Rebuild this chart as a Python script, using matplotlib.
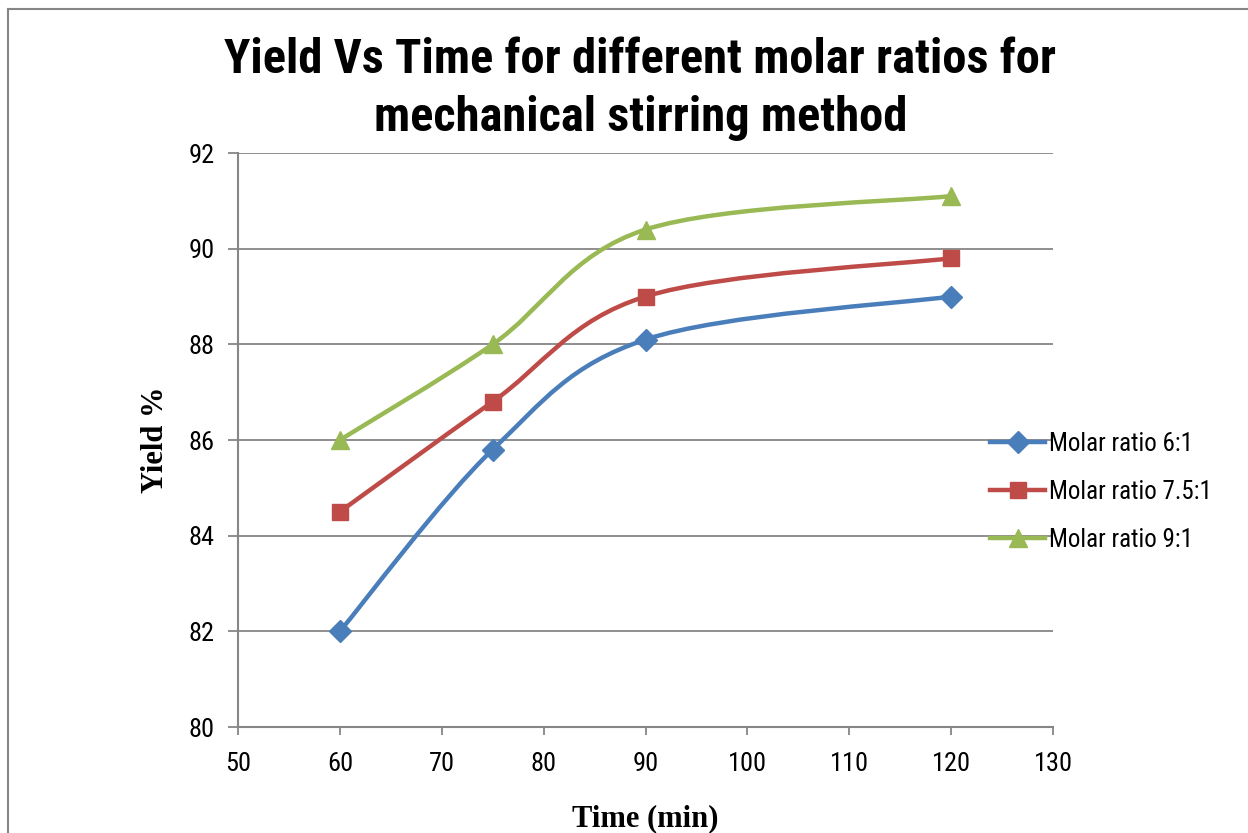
import numpy as np
import matplotlib; matplotlib.use("Agg")
import matplotlib.pyplot as plt
from matplotlib.path import Path
from matplotlib.patches import PathPatch
from matplotlib.lines import Line2D

# ------------------------------------------------------------------ data
time_min = [60, 75, 90, 120]
yield_6  = [82.0, 85.8, 88.1, 89.0]
yield_75 = [84.5, 86.8, 89.0, 89.8]
yield_9  = [86.0, 88.0, 90.4, 91.1]
labels   = ["Molar ratio 6:1", "Molar ratio 7.5:1", "Molar ratio 9:1"]
colors   = ["#4A7EBB", "#BE4B48", "#98B954"]
markers  = ["D", "s", "^"]

NARROW = ["Roboto Condensed", "DejaVu Sans"]
SERIF  = ["Liberation Serif", "DejaVu Serif"]
GRAY = "#868686"

def smooth_path(x, y):
    """Excel-like smoothed line: Catmull-Rom turned into cubic Bezier."""
    p = np.column_stack([x, y]).astype(float)
    ext = np.vstack([p[0], p, p[-1]])
    verts, codes = [p[0]], [Path.MOVETO]
    for i in range(1, len(ext) - 2):
        p0, p1, p2, p3 = ext[i-1], ext[i], ext[i+1], ext[i+2]
        verts += [p1 + (p2 - p0) / 6, p2 - (p3 - p1) / 6, p2]
        codes += [Path.CURVE4] * 3
    return Path(verts, codes)

fig = plt.figure(figsize=(12.48, 8.33), dpi=100)
ax = fig.add_axes([238/1248, 106/833, (1053-238)/1248, (727-153)/833])

handles = []
for ys, c, m, lab in zip([yield_6, yield_75, yield_9], colors, markers, labels):
    ax.add_patch(PathPatch(smooth_path(time_min, ys), fc="none", ec=c, lw=3.2, zorder=3,
                           capstyle="round", joinstyle="round"))
    ms = 13 if m == "^" else (11 if m == "D" else 11.5)
    ax.plot(time_min, ys, ls="none", marker=m, color=c, ms=ms, zorder=4)
    handles.append(Line2D([], [], color=c, lw=3.2, marker=m, ms=ms, label=lab))

ax.set_xlim(50, 130)
ax.set_ylim(80, 92)
ax.set_xticks(range(50, 131, 10))
ax.set_yticks(range(80, 93, 2))
ax.yaxis.grid(True, color=GRAY, lw=1.3)
ax.set_axisbelow(True)
for s in ["top", "right"]:
    ax.spines[s].set_visible(False)
for s in ["left", "bottom"]:
    ax.spines[s].set_color(GRAY)
    ax.spines[s].set_linewidth(1.5)
ax.tick_params(axis="y", direction="out", length=7, width=1.3, color=GRAY, pad=10)
ax.tick_params(axis="x", direction="out", length=6, width=1.3, color=GRAY, pad=12)
for t in ax.get_xticklabels() + ax.get_yticklabels():
    t.set_family(NARROW); t.set_fontsize(19)

ax.set_xlabel("Time (min)", family=SERIF, fontsize=22, fontweight="bold", labelpad=20)
ax.set_ylabel("Yield %", family=SERIF, fontsize=22, fontweight="bold", labelpad=13)

fig.text(0.513, 1 - 89/833,
         "Yield Vs Time for different molar ratios for\nmechanical stirring method",
         ha="center", va="center", family=NARROW, fontsize=35, fontweight="bold",
         linespacing=1.32)

fig.legend(handles=handles, loc="center left", bbox_to_anchor=(990/1248, 1 - 492/833),
           frameon=False, prop={"family": NARROW, "size": 18}, handlelength=2.2,
           handletextpad=0.15, labelspacing=0.95, borderpad=0, borderaxespad=0)

# outer chart frame (cropped at right and bottom)
fig.add_artist(Line2D([8/1248, 8/1248], [0, 1 - 9/833], color=GRAY, lw=1.5))
fig.add_artist(Line2D([8/1248, 1], [1 - 9/833, 1 - 9/833], color=GRAY, lw=1.5))

fig.savefig("out.png", dpi=100)
